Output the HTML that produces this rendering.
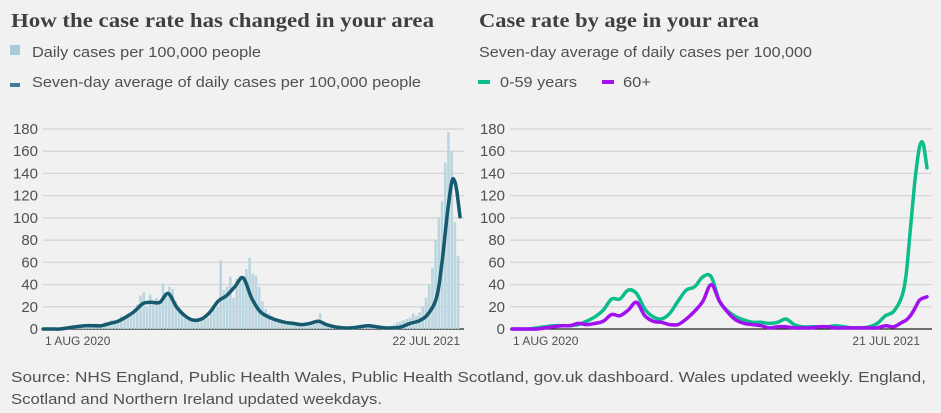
<!DOCTYPE html>
<html><head><meta charset="utf-8">
<style>
html,body{margin:0;padding:0;background:#f1f1f1;}
svg{display:block;font-family:"Liberation Sans",sans-serif;}
</style></head>
<body>
<svg id="c" width="941" height="413" viewBox="0 0 941 413">
<rect width="941" height="413" fill="#f1f1f1"/>
<text x="11" y="27" font-family="Liberation Serif,serif" font-weight="bold" font-size="20" fill="#3f3f42" textLength="423" lengthAdjust="spacingAndGlyphs">How the case rate has changed in your area</text>
<rect x="10" y="45" width="10" height="10" fill="#a9cbd8"/>
<text x="32" y="57" font-size="15" fill="#505050" textLength="229" lengthAdjust="spacingAndGlyphs">Daily cases per 100,000 people</text>
<rect x="10" y="83" width="10" height="4" fill="#3a7d98"/>
<text x="32" y="87" font-size="15" fill="#505050" textLength="389" lengthAdjust="spacingAndGlyphs">Seven-day average of daily cases per 100,000 people</text>

<text x="479" y="27" font-family="Liberation Serif,serif" font-weight="bold" font-size="20" fill="#3f3f42" textLength="280" lengthAdjust="spacingAndGlyphs">Case rate by age in your area</text>
<text x="479" y="57" font-size="15" fill="#505050" textLength="333" lengthAdjust="spacingAndGlyphs">Seven-day average of daily cases per 100,000</text>
<rect x="478" y="80" width="12" height="4" fill="#0cbd8c"/>
<text x="500" y="87" font-size="15" fill="#505050" textLength="77" lengthAdjust="spacingAndGlyphs">0-59 years</text>
<rect x="602" y="80" width="12" height="4" fill="#a20ff0"/>
<text x="623" y="87" font-size="15" fill="#505050" textLength="28" lengthAdjust="spacingAndGlyphs">60+</text>

<g id="left"></g>
<g id="right"></g>

<text x="11" y="382" font-size="15" fill="#505050" textLength="915" lengthAdjust="spacingAndGlyphs">Source: NHS England, Public Health Wales, Public Health Scotland, gov.uk dashboard. Wales updated weekly. England,</text>
<text x="11" y="404" font-size="15" fill="#505050" textLength="371" lengthAdjust="spacingAndGlyphs">Scotland and Northern Ireland updated weekdays.</text>
</svg>
<script>
const yTicks=[0,20,40,60,80,100,120,140,160,180];
const leftXLabels=["1 AUG 2020","22 JUL 2021"];
const rightXLabels=["1 AUG 2020","21 JUL 2021"];
// period index (0..50 spans the whole date range)
const avgIdx=[0,1,2,3,4,5,6,7,8,9,10,11,12,13,14,15,16,17,18,19,20,21,22,23,24,25,26,27,28,29,30,31,32,33,34,35,36,37,38,39,40,41,42,43,44,45,46,47,47.5,48,48.5,49,49.3,49.6,50];
const avgAll=[0,0,0,1,2,3,3,3,5,7,11,16,23,24,24,32,20,12,8,9,15,25,30,38,46,28,16,11,8,6,5,4,5,7,4,2,1,1,2,3,2,1,1,2,5,7,12,24,40,70,105,132,134,125,101];
const dailyAll=[0,1,0,1,0,1,2,1,2,3,2,4,3,2,4,3,5,3,4,6,5,8,7,9,12,10,14,13,18,22,30,33,20,31,24,28,22,41,30,38,36,25,18,14,10,9,8,7,6,8,9,10,14,18,20,62,35,38,47,28,45,48,44,54,64,50,48,38,25,18,14,12,10,9,8,7,6,7,6,5,5,6,4,5,6,8,14,7,4,3,2,2,1,2,1,2,3,2,3,4,3,2,2,1,1,2,1,2,3,4,6,7,8,9,10,14,12,15,20,28,40,55,80,100,115,150,177,160,96,66];
const ageIdx=[0,1,2,3,4,5,6,7,8,9,10,11,12,13,14,15,16,17,18,19,20,21,22,23,24,25,26,27,28,29,30,31,32,33,34,35,36,37,38,39,40,41,42,43,44,45,46,47,47.5,48,48.5,49,49.3,49.6,50];
const under60=[0,0,0,1,2,3,3,3,4,7,11,17,27,27,35,32,18,11,9,14,25,35,38,47,47,25,16,11,8,6,6,5,6,9,4,2,2,2,2,3,2,1,1,2,5,12,16,30,50,90,130,160,168,165,145];
const over60=[0,0,0,0,1,2,3,3,5,4,5,7,13,12,17,24,12,7,6,4,4,9,16,25,40,25,15,8,5,4,3,1,2,2,1,1,1,2,2,1,1,1,1,1,1,3,2,6,8,12,18,25,27,28,29];

const NS="http://www.w3.org/2000/svg";
function mk(parent,tag,attrs){const e=document.createElementNS(NS,tag);for(const k in attrs)e.setAttribute(k,attrs[k]);parent.appendChild(e);return e;}
function yScale(v){return 329-v*200/180;}
function axes(g,x0,x1,labelX,xl,xr,labels){
  yTicks.forEach(t=>{
    const l=mk(g,'line',{x1:x0,x2:x1,y1:yScale(t),y2:yScale(t),stroke:t===0?'#222':'#d3d3d3','stroke-width':1.2});
    
    
    const tx=mk(g,'text',{x:labelX,y:yScale(t)+5,'text-anchor':'end','font-size':15,fill:'#505050'});
    tx.textContent=t;
    
    
  });
  const a=mk(g,'text',{x:xl,y:345,'font-size':12,fill:'#505050'});a.textContent=labels[0];
  
  
  const b=mk(g,'text',{x:xr,y:345,'font-size':12,fill:'#505050','text-anchor':'end'});b.textContent=labels[1];
  
  
}
function line(g,idx,arr,xs,xe,color,name){
  const pts=arr.map((v,i)=>[xs+(xe-xs)*idx[i]/50,yScale(v)]);
  let d='M'+pts[0][0].toFixed(1)+','+pts[0][1].toFixed(1);
  for(let i=0;i<pts.length-1;i++){
    const p0=pts[Math.max(0,i-1)],p1=pts[i],p2=pts[i+1],p3=pts[Math.min(pts.length-1,i+2)];
    const c1=[p1[0]+(p2[0]-p0[0])/6,p1[1]+(p2[1]-p0[1])/6],c2=[p2[0]-(p3[0]-p1[0])/6,p2[1]-(p3[1]-p1[1])/6];
    d+=' C'+c1[0].toFixed(1)+','+c1[1].toFixed(1)+' '+c2[0].toFixed(1)+','+c2[1].toFixed(1)+' '+p2[0].toFixed(1)+','+p2[1].toFixed(1);
  }
  const p=mk(g,'path',{d:d,fill:'none',stroke:color,'stroke-width':3.5,'stroke-linejoin':'round','stroke-linecap':'round'});
  
  
}
const L=document.getElementById('left');
axes(L,43,464,38,45,460,leftXLabels);
const bg=mk(L,'g',{});


const nb=dailyAll.length,bw=(460-43)/nb;
dailyAll.forEach((v,i)=>{
  const r=mk(bg,'rect',{x:(43+i*bw).toFixed(2),y:yScale(v),width:(bw*0.8).toFixed(2),height:329-yScale(v),fill:'#b9d5df'});
  
  
});
line(L,avgIdx,avgAll,43,460,'#17596e','seven-day-average-line');
const R=document.getElementById('right');
axes(R,510,932,505,513,920,rightXLabels);
line(R,ageIdx,under60,512,927,'#0cbd8c','under-60-line');
line(R,ageIdx,over60,512,927,'#a20ff0','over-60-line');
</script>
</body></html>
